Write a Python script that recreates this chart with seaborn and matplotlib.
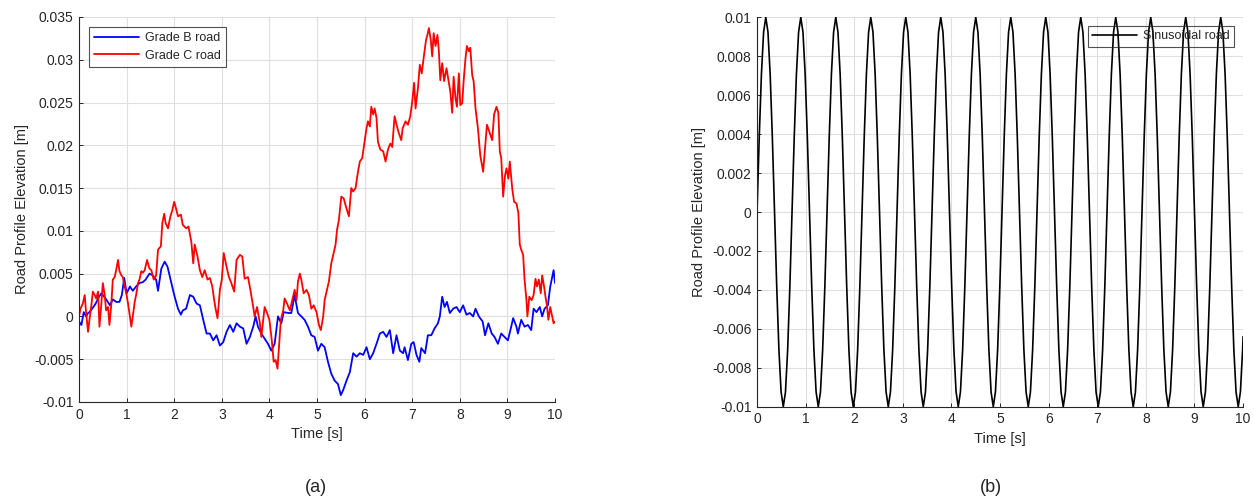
import numpy as np
import pandas as pd
import matplotlib
matplotlib.use("Agg")
import matplotlib.pyplot as plt
from matplotlib.ticker import FixedLocator, FuncFormatter
import seaborn as sns

# Grade B road (time [s], elevation [mm])
GRADE_B_T = [0, 0.05, 0.1, 0.15, 0.19, 0.22, 0.29, 0.35, 0.41, 0.47, 0.5, 0.57, 0.65, 0.71, 0.78,
             0.85, 0.9, 0.95, 1.0, 1.07, 1.13, 1.2, 1.27, 1.34, 1.4, 1.48, 1.55, 1.62, 1.66, 1.73,
             1.8, 1.86, 1.94, 2.0, 2.08, 2.14, 2.18, 2.25, 2.33, 2.4, 2.47, 2.54, 2.61, 2.68, 2.75,
             2.82, 2.89, 2.96, 3.03, 3.1, 3.17, 3.24, 3.31, 3.38, 3.45, 3.52, 3.59, 3.66, 3.71, 3.76,
             3.83, 3.9, 3.97, 4.04, 4.11, 4.18, 4.25, 4.3, 4.4, 4.46, 4.53, 4.6, 4.67, 4.74, 4.81,
             4.88, 4.95, 5.02, 5.09, 5.16, 5.23, 5.3, 5.37, 5.44, 5.5, 5.55, 5.62, 5.69, 5.76, 5.83,
             5.9, 5.97, 6.04, 6.11, 6.18, 6.25, 6.32, 6.39, 6.46, 6.53, 6.6, 6.67, 6.74, 6.81, 6.84,
             6.91, 6.98, 7.03, 7.09, 7.15, 7.19, 7.27, 7.33, 7.4, 7.47, 7.54, 7.58, 7.63, 7.68, 7.73,
             7.79, 7.86, 7.93, 8.0, 8.07, 8.14, 8.21, 8.28, 8.33, 8.4, 8.48, 8.53, 8.6, 8.67, 8.73,
             8.8, 8.87, 8.94, 9.01, 9.08, 9.12, 9.19, 9.22, 9.29, 9.36, 9.43, 9.5, 9.55, 9.61, 9.68,
             9.73, 9.78, 9.85, 9.9, 9.97, 10.0]
GRADE_B_MM = [-0.6, -1.0, 0.5, 0.0, 0.4, 0.5, 1.0, 1.5, 2.2, 2.7, 2.5, 2.0, 1.3, 2.0, 1.7,
              1.7, 2.5, 4.5, 2.7, 3.5, 3.0, 3.5, 3.9, 4.0, 4.3, 5.0, 4.8, 4.3, 3.0, 5.6,
              6.4, 5.8, 3.9, 2.5, 0.9, 0.2, 0.7, 0.9, 2.5, 2.3, 1.5, 1.3, -0.4, -2.0, -2.0,
              -2.8, -2.2, -3.4, -3.0, -1.8, -1.0, -1.8, -0.8, -1.2, -1.4, -3.2, -2.4, -1.2, 0.0, -1.2,
              -2.0, -2.6, -3.2, -4.0, -3.2, 0.0, -0.8, 0.5, 0.4, 0.4, 2.5, 0.4, 0.0, -0.4, -1.2,
              -2.2, -2.4, -4.0, -3.2, -3.6, -5.3, -6.7, -7.5, -7.9, -9.2, -8.6, -7.5, -6.5, -4.3, -4.7,
              -4.3, -4.5, -3.6, -5.0, -4.3, -3.2, -2.0, -1.8, -2.4, -1.6, -4.3, -2.2, -4.0, -4.3, -3.6,
              -5.1, -3.2, -3.0, -4.5, -5.3, -3.7, -4.3, -2.2, -2.2, -1.4, -0.8, 0.0, 2.3, 1.1, 1.7,
              0.4, 0.9, 1.1, 0.5, 1.3, 0.2, 0.4, 0.0, 0.9, 0.0, -0.6, -2.2, -0.8, -2.0, -2.4,
              -3.2, -2.0, -2.4, -2.8, -1.2, -0.2, -1.2, -2.0, -0.4, -1.2, -1.0, -1.6, 0.9, 0.5, 1.1,
              0.0, 0.9, 1.3, 3.5, 5.4, 3.9]

# Grade C road (time [s], elevation [mm])
GRADE_C_T = [0, 0.03, 0.08, 0.12, 0.15, 0.19, 0.22, 0.26, 0.29, 0.33, 0.36, 0.4, 0.43, 0.47, 0.5,
             0.54, 0.57, 0.61, 0.64, 0.68, 0.71, 0.75, 0.78, 0.82, 0.85, 0.89, 0.92, 0.96, 1.0, 1.03,
             1.07, 1.1, 1.14, 1.17, 1.2, 1.24, 1.27, 1.31, 1.34, 1.38, 1.43, 1.48, 1.52, 1.57, 1.62,
             1.66, 1.72, 1.75, 1.79, 1.82, 1.87, 1.92, 1.96, 2.0, 2.03, 2.08, 2.14, 2.18, 2.25, 2.3,
             2.36, 2.4, 2.43, 2.49, 2.54, 2.59, 2.64, 2.7, 2.75, 2.8, 2.84, 2.87, 2.91, 2.96, 3.0,
             3.04, 3.1, 3.15, 3.2, 3.26, 3.31, 3.38, 3.43, 3.48, 3.55, 3.6, 3.66, 3.69, 3.74, 3.8,
             3.83, 3.9, 3.95, 4.0, 4.05, 4.09, 4.13, 4.17, 4.2, 4.24, 4.29, 4.32, 4.37, 4.43, 4.48,
             4.53, 4.57, 4.6, 4.64, 4.67, 4.72, 4.78, 4.83, 4.88, 4.93, 4.99, 5.04, 5.08, 5.13, 5.16,
             5.21, 5.25, 5.3, 5.35, 5.39, 5.42, 5.46, 5.51, 5.56, 5.62, 5.67, 5.72, 5.76, 5.81, 5.86,
             5.9, 5.95, 6.0, 6.04, 6.07, 6.11, 6.14, 6.18, 6.21, 6.25, 6.28, 6.33, 6.39, 6.44, 6.49,
             6.54, 6.58, 6.63, 6.68, 6.72, 6.77, 6.8, 6.86, 6.91, 6.96, 7.0, 7.04, 7.07, 7.12, 7.16,
             7.2, 7.24, 7.29, 7.32, 7.35, 7.39, 7.42, 7.45, 7.49, 7.53, 7.56, 7.59, 7.63, 7.67, 7.72,
             7.77, 7.8, 7.84, 7.87, 7.91, 7.94, 7.98, 8.01, 8.05, 8.08, 8.12, 8.15, 8.19, 8.22, 8.26,
             8.29, 8.33, 8.38, 8.43, 8.49, 8.53, 8.57, 8.63, 8.68, 8.72, 8.77, 8.81, 8.84, 8.87, 8.91,
             8.95, 8.98, 9.02, 9.05, 9.1, 9.14, 9.19, 9.23, 9.26, 9.29, 9.33, 9.36, 9.4, 9.42, 9.46,
             9.51, 9.55, 9.59, 9.62, 9.66, 9.7, 9.73, 9.77, 9.8, 9.83, 9.86, 9.9, 9.94, 9.97, 10.0]
GRADE_C_MM = [0.0, 0.9, 1.5, 2.5, 0.4, -1.8, -0.4, 1.3, 2.9, 2.5, 2.1, 2.9, -1.2, 1.5, 3.9,
              2.5, 0.7, 1.1, -1.0, 1.5, 4.3, 4.6, 5.4, 6.6, 5.3, 4.8, 4.6, 3.5, 2.5, 1.5,
              0.0, -1.2, 0.4, 1.7, 2.5, 3.9, 4.3, 5.3, 5.1, 5.4, 6.6, 5.6, 5.4, 4.3, 4.8,
              7.8, 8.2, 10.9, 12.0, 10.9, 10.3, 11.7, 12.4, 13.4, 12.8, 11.7, 11.9, 10.7, 10.3, 10.5,
              8.7, 6.2, 8.4, 7.0, 5.4, 4.6, 5.4, 4.3, 4.5, 3.5, 1.9, 0.9, -0.2, 3.1, 4.3,
              7.4, 5.8, 4.6, 3.9, 2.9, 6.6, 7.2, 7.0, 4.4, 4.6, 3.1, 1.1, 0.0, 1.1, -0.8,
              -2.4, 1.1, 0.4, -0.4, -2.8, -5.3, -5.1, -6.1, -3.6, -0.4, 0.7, 2.1, 1.5, 0.7, 1.9,
              3.1, 1.9, 4.1, 5.0, 4.3, 2.7, 3.1, 2.5, 0.9, 1.3, 0.5, -1.0, -1.6, 0.0, 1.9,
              3.1, 4.1, 6.2, 7.4, 8.4, 10.1, 11.3, 14.0, 13.8, 12.6, 11.7, 15.0, 14.6, 15.0, 16.9,
              18.1, 18.5, 20.4, 22.0, 22.8, 22.2, 24.5, 23.6, 24.3, 23.2, 20.4, 19.5, 19.3, 18.1, 19.5,
              20.2, 19.8, 23.4, 22.2, 21.4, 20.6, 22.0, 22.8, 22.4, 23.4, 25.1, 27.3, 24.3, 26.7, 29.4,
              28.4, 30.2, 32.3, 32.9, 33.7, 32.3, 30.4, 33.1, 31.6, 32.9, 31.0, 27.6, 29.6, 27.5, 29.0,
              27.3, 26.3, 23.8, 28.0, 25.5, 24.5, 28.4, 24.7, 24.9, 27.5, 30.2, 31.6, 31.0, 31.4, 28.2,
              27.5, 24.3, 22.0, 18.8, 16.9, 19.7, 22.4, 21.4, 20.6, 23.6, 24.5, 23.8, 19.3, 18.5, 14.0,
              16.5, 17.3, 16.1, 18.1, 15.0, 13.4, 13.2, 12.1, 8.4, 7.8, 7.2, 4.3, 1.9, 0.0, 2.3,
              1.9, 2.5, 4.4, 3.5, 4.3, 2.7, 4.8, 3.5, 2.3, 1.3, -0.4, 1.1, 0.0, -0.8, -0.6]

# Sinusoidal road [mm], one sample every 0.045 s, last sample at t = 10 s
SINE_DT = 0.045
SINE_MM = [
    0, 3.83, 7.07, 9.24, 10, 9.24, 7.07, 3.83, 0, -3.83, -7.07, -9.24, -10, -9.24, -7.07, -3.83,
    0, 3.83, 7.07, 9.24, 10, 9.24, 7.07, 3.83, 0, -3.83, -7.07, -9.24, -10, -9.24, -7.07, -3.83,
    0, 3.83, 7.07, 9.24, 10, 9.24, 7.07, 3.83, 0, -3.83, -7.07, -9.24, -10, -9.24, -7.07, -3.83,
    0, 3.83, 7.07, 9.24, 10, 9.24, 7.07, 3.83, 0, -3.83, -7.07, -9.24, -10, -9.24, -7.07, -3.83,
    0, 3.83, 7.07, 9.24, 10, 9.24, 7.07, 3.83, 0, -3.83, -7.07, -9.24, -10, -9.24, -7.07, -3.83,
    0, 3.83, 7.07, 9.24, 10, 9.24, 7.07, 3.83, 0, -3.83, -7.07, -9.24, -10, -9.24, -7.07, -3.83,
    0, 3.83, 7.07, 9.24, 10, 9.24, 7.07, 3.83, 0, -3.83, -7.07, -9.24, -10, -9.24, -7.07, -3.83,
    0, 3.83, 7.07, 9.24, 10, 9.24, 7.07, 3.83, 0, -3.83, -7.07, -9.24, -10, -9.24, -7.07, -3.83,
    0, 3.83, 7.07, 9.24, 10, 9.24, 7.07, 3.83, 0, -3.83, -7.07, -9.24, -10, -9.24, -7.07, -3.83,
    0, 3.83, 7.07, 9.24, 10, 9.24, 7.07, 3.83, 0, -3.83, -7.07, -9.24, -10, -9.24, -7.07, -3.83,
    0, 3.83, 7.07, 9.24, 10, 9.24, 7.07, 3.83, 0, -3.83, -7.07, -9.24, -10, -9.24, -7.07, -3.83,
    0, 3.83, 7.07, 9.24, 10, 9.24, 7.07, 3.83, 0, -3.83, -7.07, -9.24, -10, -9.24, -7.07, -3.83,
    0, 3.83, 7.07, 9.24, 10, 9.24, 7.07, 3.83, 0, -3.83, -7.07, -9.24, -10, -9.24, -7.07, -3.83,
    0, 3.83, 7.07, 9.24, 10, 9.24, 7.07, 3.83, 0, -3.83, -7.07, -9.24, -10, -9.24, -7.07,
    -6.4,
]

LEFT_YTICKS = [-0.01, -0.005, 0, 0.005, 0.01, 0.015, 0.02, 0.025, 0.03, 0.035]
RIGHT_YTICKS = [-0.01, -0.008, -0.006, -0.004, -0.002, 0, 0.002, 0.004, 0.006, 0.008, 0.01]
XTICKS = list(range(0, 11))

sns.set_style("white")
plt.rcParams['font.family'] = ['Liberation Sans', 'DejaVu Sans']
plt.rcParams['axes.unicode_minus'] = False

AX_COL = '#262626'
GRID_COL = '#dfdfdf'


def fmt(v, pos):
    s = f"{round(v, 4):g}"
    return "0" if s in ("-0", "0") else s


def style_axes(ax, yticks, ylim):
    ax.set_xlim(0, 10)
    ax.set_ylim(*ylim)
    ax.xaxis.set_major_locator(FixedLocator(XTICKS))
    ax.yaxis.set_major_locator(FixedLocator(yticks))
    ax.yaxis.set_major_formatter(FuncFormatter(fmt))
    ax.grid(True, color=GRID_COL, linewidth=0.8)
    ax.set_axisbelow(True)
    for side in ('top', 'right'):
        ax.spines[side].set_visible(False)
    for side in ('left', 'bottom'):
        ax.spines[side].set_color(AX_COL)
        ax.spines[side].set_linewidth(0.8)
    ax.tick_params(direction='in', length=3, width=0.7, colors=AX_COL,
                   labelsize=10, pad=4, left=True, bottom=True)
    ax.set_xlabel('Time [s]', fontsize=10.5, color=AX_COL)
    ax.set_ylabel('Road Profile Elevation [m]', fontsize=10.5, color=AX_COL)


df_b = pd.DataFrame({'t': GRADE_B_T, 'z': np.array(GRADE_B_MM) / 1000})
df_c = pd.DataFrame({'t': GRADE_C_T, 'z': np.array(GRADE_C_MM) / 1000})
sine_t = np.append(np.arange(len(SINE_MM) - 1) * SINE_DT, 10.0)
df_s = pd.DataFrame({'t': sine_t, 'z': np.array(SINE_MM) / 1000})

fig = plt.figure(figsize=(12.54, 5.04), dpi=100)
ax1 = fig.add_axes([0.063, 0.2024, 0.3796, 0.764])
ax2 = fig.add_axes([0.6037, 0.193, 0.3876, 0.7726])

sns.lineplot(data=df_b, x='t', y='z', ax=ax1, color='#0000ff', linewidth=1.3,
             estimator=None, sort=False, label='Grade B road')
sns.lineplot(data=df_c, x='t', y='z', ax=ax1, color='#ff0000', linewidth=1.3,
             estimator=None, sort=False, label='Grade C road')
style_axes(ax1, LEFT_YTICKS, (-0.01, 0.035))
leg1 = ax1.legend(loc='upper left', fontsize=9, frameon=True, fancybox=False,
                  edgecolor=AX_COL, handlelength=3.6, borderaxespad=0.8,
                  labelspacing=0.45, borderpad=0.4, handletextpad=0.5)
leg1.get_frame().set_linewidth(0.8)

sns.lineplot(data=df_s, x='t', y='z', ax=ax2, color='black', linewidth=1.2,
             estimator=None, sort=False, label='Sinusoidal road')
style_axes(ax2, RIGHT_YTICKS, (-0.01, 0.01))
leg2 = ax2.legend(loc='upper right', fontsize=9, frameon=True, fancybox=False,
                  edgecolor=AX_COL, handlelength=3.6, borderaxespad=0.7,
                  borderpad=0.35, handletextpad=0.5)
leg2.get_frame().set_linewidth(0.8)
leg2.get_frame().set_facecolor('none')

fig.text(0.252, 0.032, '(a)', fontsize=13, ha='center', va='center')
fig.text(0.79, 0.032, '(b)', fontsize=13, ha='center', va='center')

fig.savefig('out.png', dpi=100, facecolor='white')
